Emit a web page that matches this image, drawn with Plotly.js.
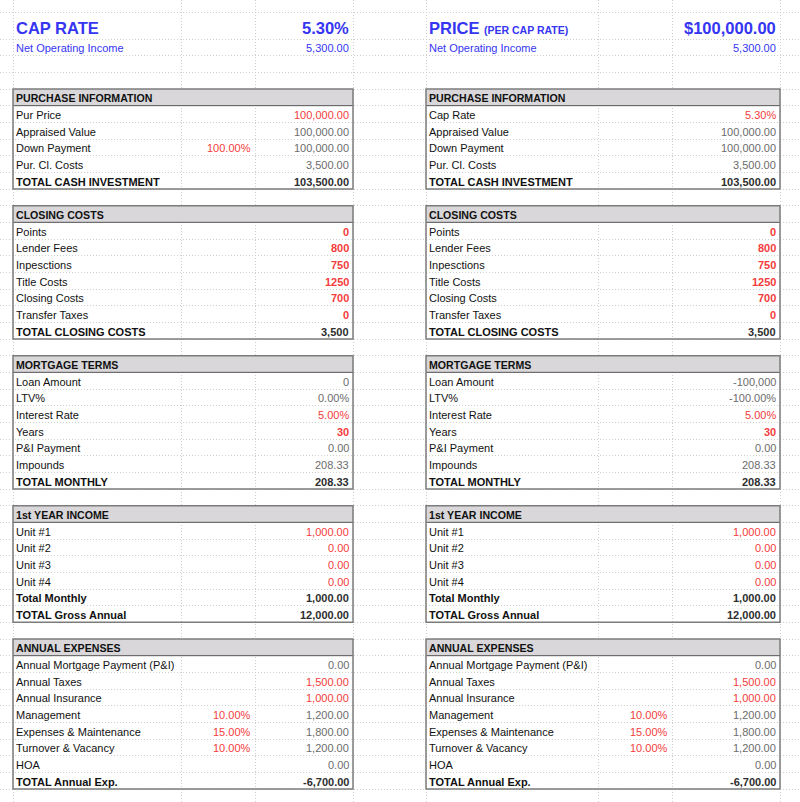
<!DOCTYPE html>
<html>
<head>
<meta charset="utf-8">
<script src="https://cdn.plot.ly/plotly-3.0.1.min.js"></script>
<style>body{margin:0;background:#fff}</style>
</head>
<body>
<div id="plot" style="width:800px;height:802px"></div>
<script>
// ---- sheet values ----
const capTitle = "CAP RATE";
const capRate = "5.30%";
const priceTitle = "PRICE";
const priceSub = "(PER CAP RATE)";
const priceValue = "$100,000.00";
const noiLabel = "Net Operating Income";
const noiLeft = "5,300.00";
const noiRight = "5,300.00";

const purchaseLabelsL = ["Pur Price", "Appraised Value", "Down Payment", "Pur. Cl. Costs", "TOTAL CASH INVESTMENT"];
const purchaseLabelsR = ["Cap Rate", "Appraised Value", "Down Payment", "Pur. Cl. Costs", "TOTAL CASH INVESTMENT"];
const purchasePctL = ["", "", "100.00%", "", ""];
const purchasePctR = ["", "", "", "", ""];
const purchaseValsL = ["100,000.00", "100,000.00", "100,000.00", "3,500.00", "103,500.00"];
const purchaseValsR = ["5.30%", "100,000.00", "100,000.00", "3,500.00", "103,500.00"];

const closingLabels = ["Points", "Lender Fees", "Inpesctions", "Title Costs", "Closing Costs", "Transfer Taxes", "TOTAL CLOSING COSTS"];
const closingVals = ["0", "800", "750", "1250", "700", "0", "3,500"];

const mortgageLabels = ["Loan Amount", "LTV%", "Interest Rate", "Years", "P&I Payment", "Impounds", "TOTAL MONTHLY"];
const mortgageValsL = ["0", "0.00%", "5.00%", "30", "0.00", "208.33", "208.33"];
const mortgageValsR = ["-100,000", "-100.00%", "5.00%", "30", "0.00", "208.33", "208.33"];

const incomeLabels = ["Unit #1", "Unit #2", "Unit #3", "Unit #4", "Total Monthly", "TOTAL Gross Annual"];
const incomeVals = ["1,000.00", "0.00", "0.00", "0.00", "1,000.00", "12,000.00"];

const expenseLabels = ["Annual Mortgage Payment (P&I)", "Annual Taxes", "Annual Insurance", "Management",
                       "Expenses & Maintenance", "Turnover & Vacancy", "HOA", "TOTAL Annual Exp."];
const expensePct = ["", "", "", "10.00%", "15.00%", "10.00%", "", ""];
const expenseVals = ["0.00", "1,500.00", "1,000.00", "1,200.00", "1,800.00", "1,200.00", "0.00", "-6,700.00"];

// cell kinds: in = input (red), inB = bold input, calc = formula (gray), tot = total row
const purchaseKinds = ["in", "calc", "calc", "calc", "tot"];
const closingKinds = ["inB", "inB", "inB", "inB", "inB", "inB", "tot"];
const mortgageKinds = ["calc", "calc", "in", "inB", "calc", "calc", "tot"];
const incomeKinds = ["in", "in", "in", "in", "tot", "tot"];
const expenseKinds = ["calc", "in", "in", "calc", "calc", "calc", "calc", "tot"];

// ---- sheet geometry ----
const colsL = [13, 181, 255, 353];
const colsR = [426, 598, 672, 780];
const TITLE_TOP = 12, TOP = 39, ROW = 16.667;
const rowTop = r => TOP + r * ROW;
const rowMid = r => TOP + (r + 0.5) * ROW + 1;

const FONT = "Liberation Sans, Arial, Helvetica, sans-serif";
const BLUE = "#3535f2", RED = "#f43c3c", GRAY = "#6c6c6c", DARK = "#2e2e2e";
const kindStyle = {
  in:   { color: RED,  weight: 400 },
  inB:  { color: RED,  weight: 700 },
  calc: { color: GRAY, weight: 400 },
  tot:  { color: DARK, weight: 700 }
};

const annotations = [];
const shapes = [];

function txt(x, y, text, anchor, size, color, weight) {
  annotations.push({
    x: x, y: y, xref: "x", yref: "y", text: text, showarrow: false,
    xanchor: anchor, yanchor: "middle", borderpad: 0,
    font: { family: FONT, size: size, color: color, weight: weight || 400 }
  });
}

function section(cols, start, name, labels, pct, vals, kinds) {
  const end = start + labels.length; // last body row
  shapes.push({ type: "rect", xref: "x", yref: "y", x0: cols[0], x1: cols[3],
    y0: rowTop(start), y1: rowTop(start + 1), fillcolor: "#d9d7d9", line: { width: 0 } });
  shapes.push({ type: "line", xref: "x", yref: "y", x0: cols[0], x1: cols[3],
    y0: rowTop(start + 1), y1: rowTop(start + 1), line: { color: "#555", width: 1 } });
  shapes.push({ type: "rect", xref: "x", yref: "y", x0: cols[0], x1: cols[3],
    y0: rowTop(start), y1: rowTop(end + 1), line: { color: "#7c7c7c", width: 1.5 } });
  txt(cols[0] + 2, rowMid(start), name, "left", 10.6, "#111", 700);
  labels.forEach((lab, i) => {
    const r = start + 1 + i;
    const st = kindStyle[kinds[i]];
    txt(cols[0] + 2, rowMid(r), lab, "left", 11, "#111", kinds[i] === "tot" ? 700 : 400);
    if (pct[i]) txt(cols[2] - 3, rowMid(r), pct[i], "right", 11, RED, 400);
    txt(cols[3] - 3, rowMid(r), vals[i], "right", 11, st.color, st.weight);
  });
  return end + 2; // next section start, one blank row
}

function sheet(cols, side) {
  const left = side === "L";
  if (left) {
    txt(cols[0] + 2, 27.5, capTitle, "left", 16.5, BLUE, 700);
    txt(cols[3] - 3, 27.5, capRate, "right", 16.5, BLUE, 700);
  } else {
    txt(cols[0] + 2, 27.5, "<b>" + priceTitle + "</b> <b><span style='font-size:10.5px'>" + priceSub + "</span></b>",
        "left", 16.5, BLUE, 700);
    txt(cols[3] - 3, 27.5, priceValue, "right", 16.5, BLUE, 700);
  }
  txt(cols[0] + 2, rowMid(0), noiLabel, "left", 11, BLUE, 400);
  txt(cols[3] - 3, rowMid(0), left ? noiLeft : noiRight, "right", 11, BLUE, 400);

  let s = 3;
  s = section(cols, s, "PURCHASE INFORMATION", left ? purchaseLabelsL : purchaseLabelsR,
              left ? purchasePctL : purchasePctR, left ? purchaseValsL : purchaseValsR, purchaseKinds);
  s = section(cols, s, "CLOSING COSTS", closingLabels, closingLabels.map(() => ""), closingVals, closingKinds);
  s = section(cols, s, "MORTGAGE TERMS", mortgageLabels, mortgageLabels.map(() => ""),
              left ? mortgageValsL : mortgageValsR, mortgageKinds);
  s = section(cols, s, "1st YEAR INCOME", incomeLabels, incomeLabels.map(() => ""), incomeVals, incomeKinds);
  s = section(cols, s, "ANNUAL EXPENSES", expenseLabels, expensePct, expenseVals, expenseKinds);
}

sheet(colsL, "L");
sheet(colsR, "R");

// spreadsheet gridlines through the axes
const rowEdges = [TITLE_TOP];
for (let r = 0; r <= 46; r++) rowEdges.push(rowTop(r));

const grid = { showgrid: true, gridcolor: "#cfcfcf", griddash: "1px,2px", gridwidth: 1,
               showticklabels: false, ticks: "", zeroline: false, showline: false, fixedrange: true };

const layout = {
  width: 800, height: 802,
  margin: { l: 0, r: 0, t: 0, b: 0 },
  paper_bgcolor: "#fff", plot_bgcolor: "#fff",
  showlegend: false,
  xaxis: Object.assign({ range: [0, 800], tickvals: colsL.concat(colsR) }, grid),
  yaxis: Object.assign({ range: [802, 0], tickvals: rowEdges }, grid),
  annotations: annotations,
  shapes: shapes
};

Plotly.newPlot("plot", [{ x: [], y: [], type: "scatter", mode: "markers" }], layout,
               { displayModeBar: false, staticPlot: true });
</script>
</body>
</html>
